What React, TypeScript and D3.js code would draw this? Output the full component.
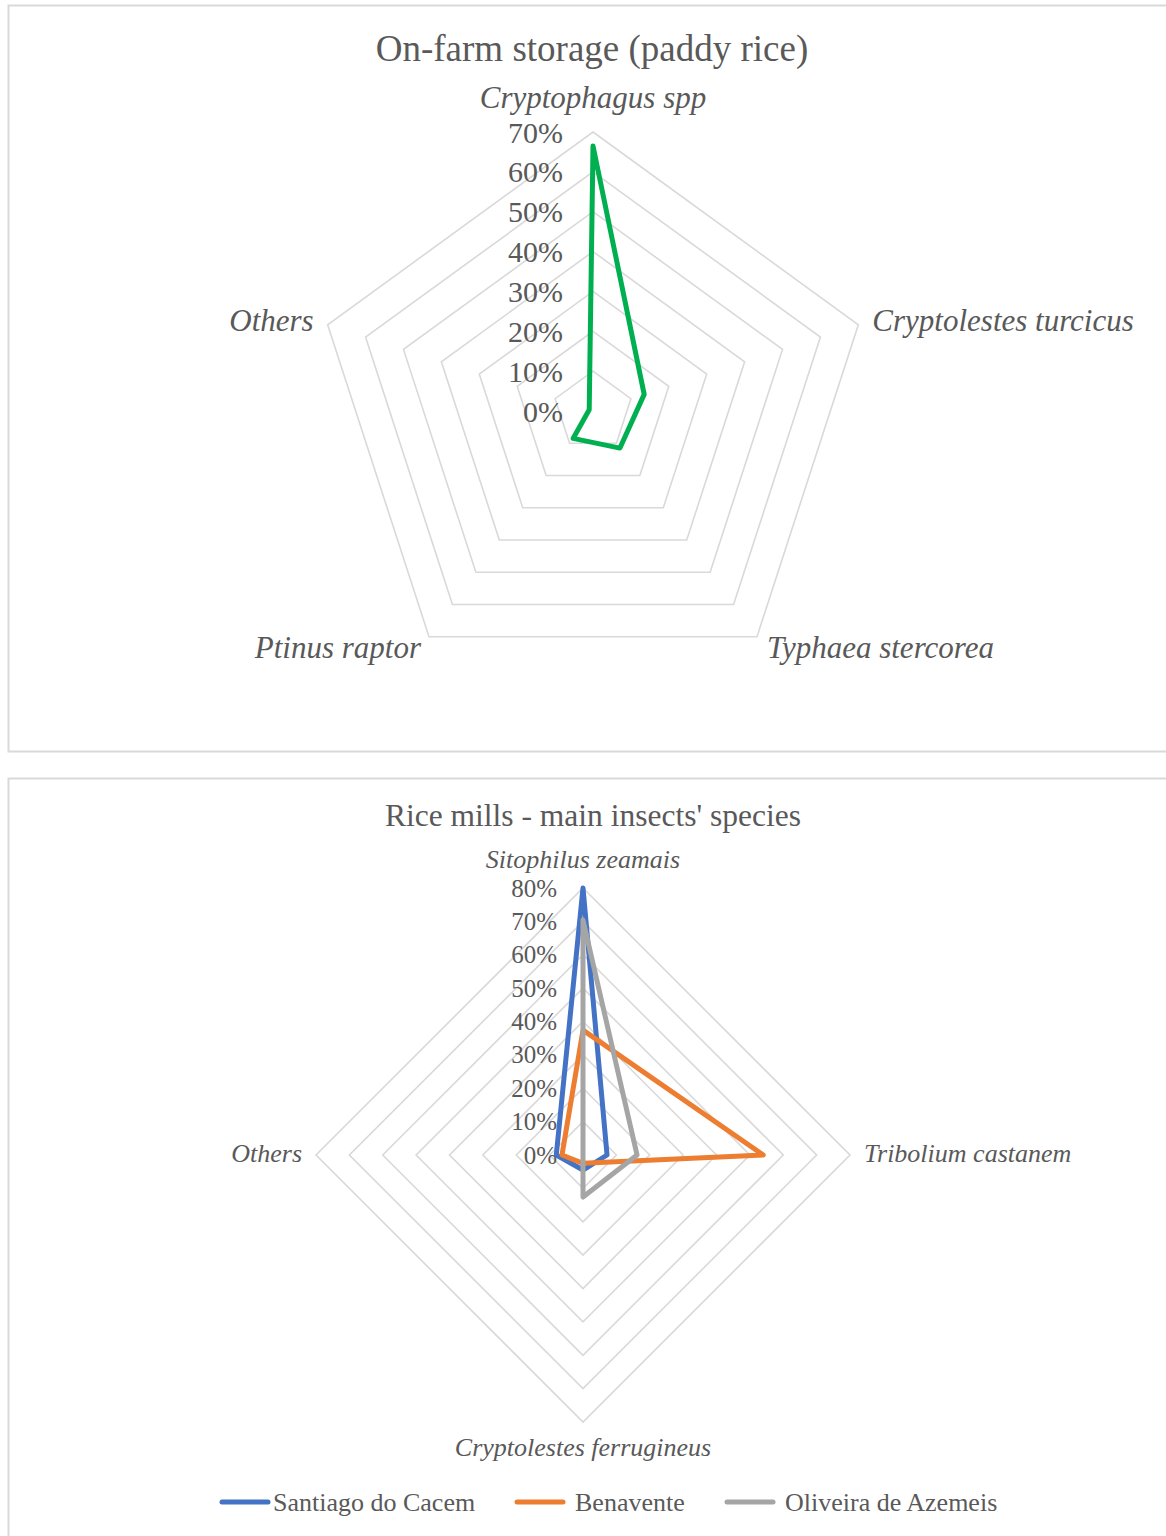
import React from "react";
import * as d3 from "d3";

// ---- data ----
const farmAxes = ["Cryptophagus spp", "Cryptolestes turcicus", "Typhaea stercorea", "Ptinus raptor", "Others"];
const farmValues = [0.665, 0.135, 0.115, 0.085, 0.01];
const farmTicks = [0, 0.1, 0.2, 0.3, 0.4, 0.5, 0.6, 0.7];

const millAxes = ["Sitophilus zeamais", "Tribolium castanem", "Cryptolestes ferrugineus", "Others"];
const millSeries = ["Santiago do Cacem", "Benavente", "Oliveira de Azemeis"];
const santiago = [0.8, 0.072, 0.045, 0.08];
const benavente = [0.374, 0.54, 0.025, 0.063];
const oliveira = [0.704, 0.162, 0.126, 0.0];
const millColors = ["#4472c4", "#ed7d31", "#a5a5a5"];
const millTicks = [0, 0.1, 0.2, 0.3, 0.4, 0.5, 0.6, 0.7, 0.8];

const FONT = "'Liberation Serif', 'Times New Roman', serif";
const TXT = "#595959";
const GRID = "#d9d9d9";

const pct = d3.format(".0%");

type LabelPos = { dx: number; dy: number; anchor: string };

function Radar({
  cx, cy, R, max, axes, ticks, series, colors, tickSize, labelSize, labelPos, tickX,
}: {
  cx: number; cy: number; R: number; max: number; axes: string[]; ticks: number[];
  series: number[][]; colors: string[]; tickSize: number; labelSize: number;
  labelPos: LabelPos[]; tickX: number;
}) {
  const n = axes.length;
  const r = d3.scaleLinear().domain([0, max]).range([0, R]);
  const ang = d3.scaleLinear().domain([0, n]).range([0, 2 * Math.PI]);
  const radial = d3
    .lineRadial<number>()
    .angle((_, i) => ang(i))
    .radius((d) => r(d))
    .curve(d3.curveLinearClosed);
  const pt = (i: number, v: number) => [Math.sin(ang(i)) * r(v), -Math.cos(ang(i)) * r(v)];

  return (
    <g transform={`translate(${cx},${cy})`}>
      {ticks.slice(1).map((t) => (
        <path key={t} d={radial(axes.map(() => t)) || ""} fill="none" stroke={GRID} strokeWidth={1.6} />
      ))}
      {ticks.map((t) => (
        <text
          key={"t" + t}
          x={tickX - cx}
          y={-r(t)}
          textAnchor="end"
          dominantBaseline="central"
          fontSize={tickSize}
          fill={TXT}
          fontFamily={FONT}
        >
          {pct(t)}
        </text>
      ))}
      {axes.map((a, i) => {
        const [x, y] = pt(i, max);
        const lp = labelPos[i];
        return (
          <text
            key={a}
            x={x + lp.dx}
            y={y + lp.dy}
            textAnchor={lp.anchor}
            dominantBaseline="central"
            fontSize={labelSize}
            fontStyle="italic"
            fill={TXT}
            fontFamily={FONT}
          >
            {a}
          </text>
        );
      })}
      {series.map((s, k) => (
        <path
          key={k}
          d={radial(s) || ""}
          fill="none"
          stroke={colors[k]}
          strokeWidth={5}
          strokeLinejoin="round"
        />
      ))}
    </g>
  );
}

export default function App() {
  const legendX = [222, 517, 727];
  return (
    <svg
      width={1166}
      height={1536}
      style={{ position: "absolute", left: 0, top: 0, background: "#fff" }}
    >
      <rect x={8.5} y={5.5} width={1200} height={746} fill="#fff" stroke={GRID} strokeWidth={2} />
      <rect x={8.5} y={778.5} width={1200} height={800} fill="#fff" stroke={GRID} strokeWidth={2} />

      <text x={592} y={48} textAnchor="middle" dominantBaseline="central" fontSize={37} fill={TXT} fontFamily={FONT}>
        On-farm storage (paddy rice)
      </text>
      <Radar
        cx={593}
        cy={411}
        R={279}
        max={0.7}
        axes={farmAxes}
        ticks={farmTicks}
        series={[farmValues]}
        colors={["#00b050"]}
        tickSize={30}
        labelSize={31}
        tickX={563}
        labelPos={[
          { dx: 0, dy: -35, anchor: "middle" },
          { dx: 14, dy: -4, anchor: "start" },
          { dx: 10, dy: 11, anchor: "start" },
          { dx: -8, dy: 11, anchor: "end" },
          { dx: -14, dy: -4, anchor: "end" },
        ]}
      />

      <text x={593} y={815} textAnchor="middle" dominantBaseline="central" fontSize={31.5} fill={TXT} fontFamily={FONT}>
        Rice mills - main insects' species
      </text>
      <Radar
        cx={583}
        cy={1155}
        R={267}
        max={0.8}
        axes={millAxes}
        ticks={millTicks}
        series={[santiago, benavente, oliveira]}
        colors={millColors}
        tickSize={25}
        labelSize={26}
        tickX={557}
        labelPos={[
          { dx: 0, dy: -29, anchor: "middle" },
          { dx: 14, dy: -2, anchor: "start" },
          { dx: 0, dy: 25, anchor: "middle" },
          { dx: -14, dy: -2, anchor: "end" },
        ]}
      />

      {millSeries.map((s, i) => (
        <g key={s} transform={`translate(${legendX[i]},1502)`}>
          <line x1={0} x2={46} y1={0} y2={0} stroke={millColors[i]} strokeWidth={5} strokeLinecap="round" />
          <text x={i === 0 ? 51 : 58} y={0} dominantBaseline="central" fontSize={26} fill={TXT} fontFamily={FONT}>
            {s}
          </text>
        </g>
      ))}
    </svg>
  );
}
